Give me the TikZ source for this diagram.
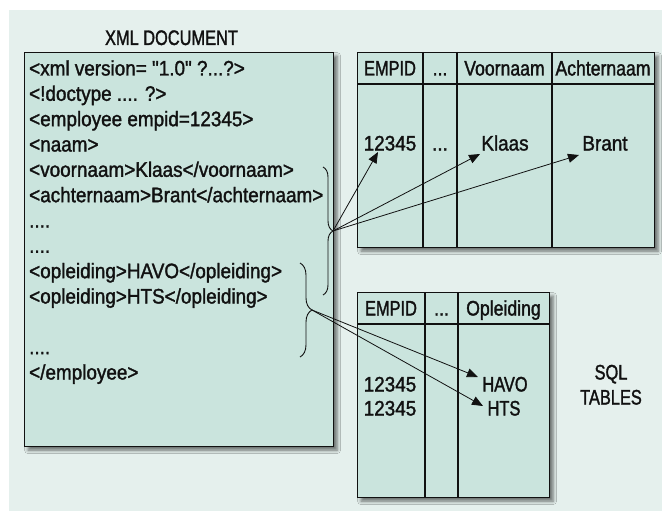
\documentclass[tikz,border=0pt]{standalone}
\usepackage{fontspec}
\setmainfont{Liberation Sans}[Ligatures=TeXOff, FakeStretch=0.9, FakeBold=1.5]
\newfontfamily\capsfont{Liberation Sans}[Ligatures=TeXOff, FakeStretch=0.78, FakeBold=1.5]
\newfontfamily\headfont{Liberation Sans}[Ligatures=TeXOff, FakeStretch=0.84, FakeBold=1.5]
\usetikzlibrary{shadows.blur,decorations.pathreplacing,arrows.meta}

\definecolor{panelbg}{RGB}{229,240,237}
\definecolor{boxfill}{RGB}{202,228,221}
\definecolor{inkc}{RGB}{17,17,17}

\tikzset{
  panel/.style={draw=inkc, line width=1.1pt, fill=boxfill, inner sep=0pt,
    anchor=north west,
    blur shadow={shadow xshift=3.5pt, shadow yshift=-3.5pt,
                 shadow blur radius=3.5pt, shadow opacity=55}},
  grid/.style={draw=inkc, line width=1.1pt},
  txt/.style={inner sep=0pt, anchor=base, text=inkc,
    font=\fontsize{21}{24}\selectfont},
  xmltxt/.style={txt, anchor=base west},
  captxt/.style={txt, font=\fontsize{21}{24}\selectfont\capsfont},
  headtxt/.style={txt, font=\fontsize{21}{24}\selectfont\headfont},
  bracepath/.style={draw=inkc, line width=0.9pt,
    decorate, decoration={brace, amplitude=#1}},
  link/.style={draw=inkc, line width=0.8pt,
    -{Triangle[length=11pt, width=9pt]}}
}

\begin{document}
\begin{tikzpicture}[x=1pt, y=-1pt]
  % page and light backdrop
  \useasboundingbox (0,0) rectangle (662,511);
  \fill[white] (0,0) rectangle (662,511);
  \fill[panelbg] (9,10) rectangle (662,511);

  % ---------- XML document ----------
  \node[captxt] (xmltitle) at (171.5,45) {XML DOCUMENT};
  \node[panel, minimum width=309pt, minimum height=394pt] (xmlbox) at (24,52) {};

  \node[xmltxt] (l1)  at (29,75.5)  {<xml version= "1.0" ?...?>};
  \node[xmltxt] (l2)  at (29,100.8) {<!doctype .... ?>};
  \node[xmltxt] (l3)  at (29,126.2) {<employee empid=12345>};
  \node[xmltxt] (l4)  at (29,151.5) {<naam>};
  \node[xmltxt] (l5)  at (29,176.8) {<voornaam>Klaas</voornaam>};
  \node[xmltxt] (l6)  at (29,202.2) {<achternaam>Brant</achternaam>};
  \node[xmltxt] (l7)  at (29,227.5) {....};
  \node[xmltxt] (l8)  at (29,252.8) {....};
  \node[xmltxt] (l9)  at (29,278.2) {<opleiding>HAVO</opleiding>};
  \node[xmltxt] (l10) at (29,303.5) {<opleiding>HTS</opleiding>};
  \node[xmltxt] (l11) at (29,354.2) {....};
  \node[xmltxt] (l12) at (29,379.5) {</employee>};

  % grouping braces
  \draw[bracepath=10pt] (323,167) -- (323,295);
  \coordinate (tipA) at (333,231);
  \draw[bracepath=12pt] (300,263) -- (300,357);
  \coordinate (tipB) at (312,310);

  % ---------- employee table ----------
  \node[panel, minimum width=297pt, minimum height=195pt] (tabA) at (357,52) {};
  \draw[grid] (357,84) -- (654,84);
  \draw[grid] (423,52) -- (423,247);
  \draw[grid] (457,52) -- (457,247);
  \draw[grid] (552,52) -- (552,247);

  \node[captxt]  (hA1) at (390,75.5)   {EMPID};
  \node[headtxt] (hA2) at (440,75.5)   {...};
  \node[headtxt] (hA3) at (504.5,75.5) {Voornaam};
  \node[headtxt] (hA4) at (603,75.5)   {Achternaam};

  \node[txt] (empid)  at (390,150.5) {12345};
  \node[txt] (dotsA)  at (440,150.5) {...};
  \node[txt] (klaas)  at (505,150.5) {Klaas};
  \node[txt] (brant)  at (605,150.5) {Brant};

  % ---------- education table ----------
  \node[panel, minimum width=192pt, minimum height=205pt] (tabB) at (357,292) {};
  \draw[grid] (357,324) -- (549,324);
  \draw[grid] (425,292) -- (425,497);
  \draw[grid] (458,292) -- (458,497);

  \node[captxt]  (hB1) at (391,315.5)   {EMPID};
  \node[headtxt] (hB2) at (441.5,315.5) {...};
  \node[headtxt] (hB3) at (503.5,315.5) {Opleiding};

  \node[txt]     (empidB1) at (390,391.5) {12345};
  \node[txt]     (empidB2) at (390,415.5) {12345};
  \node[captxt]  (havo)    at (505,391.5) {HAVO};
  \node[captxt]  (hts)     at (504,415.5) {HTS};

  \node[captxt] (sqlA) at (611,379.5) {SQL};
  \node[captxt] (sqlB) at (611,404.5) {TABLES};

  % ---------- mapping arrows ----------
  \coordinate (toEmpid) at (378,152);
  \coordinate (toKlaas) at (480,154);
  \coordinate (toBrant) at (579,155);
  \coordinate (toHavo)  at (478,377);
  \coordinate (toHts)   at (483,406);

  \draw[link] (tipA) -- (toEmpid);
  \draw[link] (tipA) -- (toKlaas);
  \draw[link] (tipA) -- (toBrant);
  \draw[link] (tipB) -- (toHavo);
  \draw[link] (tipB) -- (toHts);
\end{tikzpicture}
\end{document}
